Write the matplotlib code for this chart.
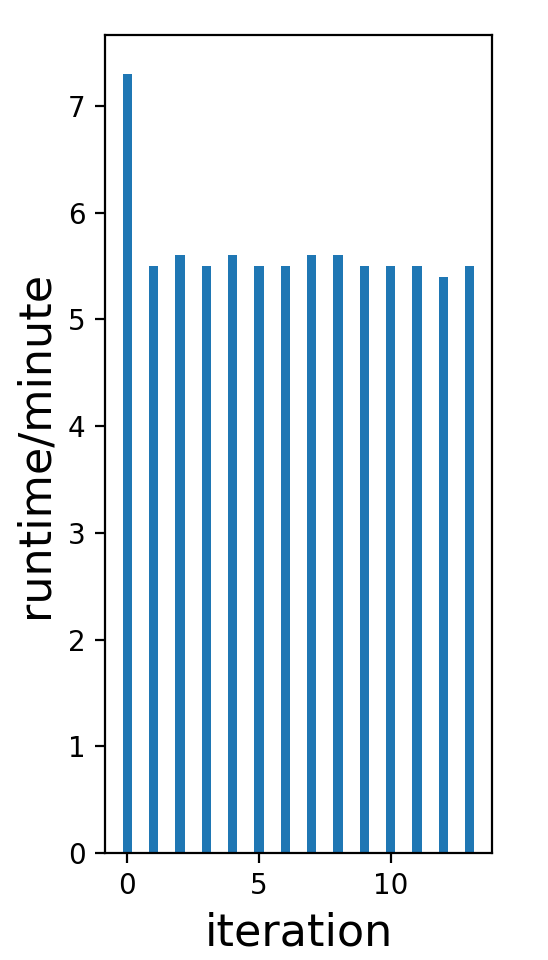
import matplotlib
matplotlib.use('Agg')
import matplotlib.pyplot as plt
import numpy as np

# runtime per iteration, in minutes
iterations = np.arange(14)
runtime = [7.3, 5.5, 5.6, 5.5, 5.6, 5.5, 5.5, 5.6, 5.6, 5.5, 5.5, 5.5, 5.4, 5.5]

fig = plt.figure(figsize=(2.74, 4.8), dpi=200)
ax = fig.add_axes([105 / 548, 1 - 853 / 960, 387 / 548, 818 / 960])
ax.bar(iterations, runtime, width=0.35, color='#1f77b4')
ax.set_xlabel('iteration', fontsize=16)
ax.set_ylabel('runtime/minute', fontsize=16)
ax.tick_params(labelsize=10)
plt.savefig('out.png', dpi=200)
